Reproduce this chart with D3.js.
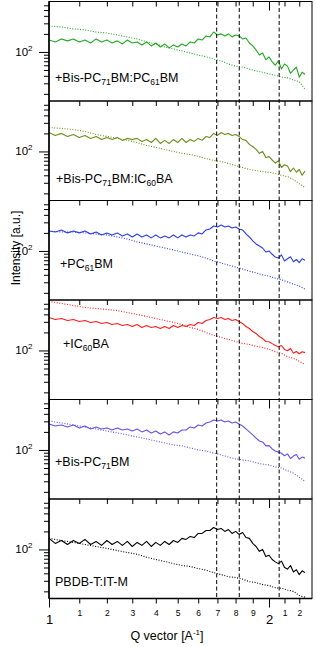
<!DOCTYPE html>
<meta charset="utf-8">
<style>
body { margin: 0; background: #fff; }
svg { display: block; font-family: Arial, "Liberation Sans", sans-serif; }
.frame { fill: none; stroke: #000; stroke-width: 1px; }
.axis-line { stroke: #000; stroke-width: 1.5px; }
.axis path.domain { display: none; }
.axis line { stroke: #000; stroke-width: 1px; }
.solid { fill: none; stroke-width: 1.1px; stroke-linejoin: round; }
.dotted { fill: none; stroke-width: 1.1px; stroke-dasharray: 1,1.6; }
.marker { stroke: #000; stroke-width: 1px; stroke-dasharray: 4,2.5; }
</style>
<body>
<script src="https://d3js.org/d3.v7.min.js"></script>
<script>

// Q values (shared grid) for the noisy traces and the dotted reference traces
var qSolid = [1.00, 1.02, 1.04, 1.06, 1.08, 1.10, 1.12, 1.14, 1.16, 1.18,
  1.20, 1.22, 1.24, 1.26, 1.28, 1.30, 1.32, 1.34, 1.36, 1.38,
  1.40, 1.42, 1.44, 1.46, 1.48, 1.50, 1.52, 1.54, 1.56, 1.58,
  1.60, 1.62, 1.64, 1.66, 1.68, 1.70, 1.72, 1.74, 1.76, 1.78,
  1.80, 1.82, 1.84, 1.86, 1.88, 1.90, 1.92, 1.94, 1.96, 1.98,
  2.00, 2.02, 2.04, 2.06, 2.08, 2.10, 2.12, 2.14, 2.16, 2.18,
  2.20, 2.22, 2.24];
var qDotted = [1.00, 1.04, 1.08, 1.12, 1.16, 1.20, 1.24, 1.28, 1.32, 1.36,
  1.40, 1.44, 1.48, 1.52, 1.56, 1.60, 1.64, 1.68, 1.72, 1.76,
  1.80, 1.84, 1.88, 1.92, 1.96, 2.00, 2.04, 2.08, 2.12, 2.16,
  2.20, 2.24];

var labels = ["+Bis-PC{71}BM:PC{61}BM", "+Bis-PC{71}BM:IC{60}BA", "+PC{61}BM",
  "+IC{60}BA", "+Bis-PC{71}BM", "PBDB-T:IT-M"];

var solid1 = [158,147,165,153,165,147,158,141,165,147, 158,141,153,136,158,141,147,131,147,126,
  141,121,136,117,131,121,136,126,147,141, 165,158,185,178,215,192,200,185,200,178,
  192,185,165,171,141,126,108,89,96,74, 83,68,60,71,52,63,58,44,50,56, 38,46,42];
var dotted1 = [271,261,242,232,215,207,192,178,165,147, 136,121,112,104,96,89,83,76,71,63,
  58,56,52,48,46,43,41,38,37,34, 32,24];

var solid2 = [207,185,200,178,192,171,185,165,178,158, 171,158,171,153,165,158,165,147,158,141,
  165,136,153,136,158,141,165,141,158,147, 165,153,178,171,200,185,207,192,200,185,
  192,178,158,153,131,121,108,93,100,79, 82,72,64,70,54,60,57,46,53,45, 50,40,47];
var dotted2 = [251,242,232,215,192,178,165,153,141,126, 117,108,100,93,89,83,76,71,68,63,
  58,54,50,48,46,45,43,40,38,34, 29,25];

var solid3 = [215,207,224,200,215,200,215,192,207,185, 200,185,200,178,192,171,192,171,185,165,
  185,165,178,165,185,165,185,171,185,178, 200,192,224,232,261,251,271,251,261,242,
  251,232,224,192,171,147,131,121,112,96, 100,88,79,76,86,68,74,80,66,72, 64,74,70];
var dotted3 = [215,207,207,200,192,185,171,158,141,131, 121,112,104,96,89,83,76,68,63,58,
  54,50,46,43,40,38,35,33,30.5,28, 26,23];

var solid4 = [355,329,341,316,329,304,316,293,304,282, 293,271,282,261,271,251,271,242,261,242,
  251,232,251,232,261,242,261,251,271,261, 293,282,316,329,355,341,355,329,341,316,
  329,304,282,251,232,207,192,171,158,141, 140,130,121,115,121,104,99,108,90,96, 88,95,92];
var dotted4 = [656,607,562,521,501,482,464,430,398,369, 341,316,293,271,242,224,200,178,165,153,
  141,131,126,117,112,104,96,89,79,74, 66,58];

var solid5 = [271,251,261,242,261,232,251,224,242,224, 232,215,232,215,224,207,224,200,215,192,
  207,185,200,178,200,192,215,215,242,232, 261,251,282,293,316,304,316,293,304,282,
  293,271,251,224,200,178,158,141,136,117, 118,104,96,92,88,80,86,72,79,84, 70,76,73];
var dotted5 = [304,282,261,242,224,207,192,178,165,153, 141,131,121,117,108,100,96,89,83,76,
  71,68,66,61,58,56,52,50,45,41, 35,30];

var solid6 = [153,126,141,121,141,126,147,121,136,117, 141,121,136,117,136,112,131,117,136,112,
  131,117,136,121,141,131,153,147,165,158, 185,185,207,207,232,215,224,200,215,185,
  200,178,192,158,153,126,112,93,100,76, 80,68,62,58,64,50,47,54,42,46, 38,44,41];
var dotted6 = [153,141,131,121,112,104,96,89,83,74, 68,63,58,54,52,48,45,41,38,35,
  34,32,29,28,26,25,23,22.5,21,20, 17,16];

// peak positions marked by the dashed lines
var peakQ = [1.696, 1.821, 2.065];

var xTicks = [1, 1.1, 1.2, 1.3, 1.4, 1.5, 1.6, 1.7, 1.8, 1.9, 2, 2.1, 2.2];
var yMinor = [20, 30, 40, 50, 60, 70, 80, 90, 200, 300, 400, 500, 600];

var solids = [solid1, solid2, solid3, solid4, solid5, solid6];
var dotteds = [dotted1, dotted2, dotted3, dotted4, dotted5, dotted6];

// styling / layout
var colors = ["#22a822", "#6b8e1a", "#2a3cf0", "#ff1c1c", "#6650ee", "#000000"];
var labelPos = [[55, 80.8], [56, 82.3], [60, 67.8], [63, 48.3], [55, 66.5], [55, 87]];

var width = 316, height = 647;
var left = 49, right = 312, top0 = 1.5, panelH = 99.5;
var bottom = top0 + 6 * panelH;

var svg = d3.select("body").append("svg")
    .attr("width", width)
    .attr("height", height);

var x = d3.scaleLog().domain([1, 2.29]).range([left, right]);

var isMajor = d => Math.abs(d - Math.round(d)) < 1e-6;

solids.forEach(function(solid, i) {
  var top = top0 + i * panelH;
  var y = d3.scaleLog().domain([15.2, 694]).range([top + panelH, top]);
  var g = svg.append("g");

  var line = d3.line()
      .x(d => x(d[0]))
      .y(d => y(d[1]));

  g.append("path")
      .attr("class", "dotted")
      .attr("stroke", colors[i])
      .attr("d", line(d3.zip(qDotted, dotteds[i])));

  g.append("path")
      .attr("class", "solid")
      .attr("stroke", colors[i])
      .attr("d", line(d3.zip(qSolid, solid)));

  g.append("rect")
      .attr("class", "frame")
      .attr("x", left).attr("y", top)
      .attr("width", right - left).attr("height", panelH);

  // x ticks hanging down from the top of each panel
  var topAxis = g.append("g")
      .attr("class", "axis")
      .attr("transform", `translate(0,${top})`)
      .call(d3.axisBottom(x).tickValues(xTicks).tickSize(5).tickFormat(""));
  topAxis.selectAll(".tick line").filter(isMajor).attr("y2", 9);

  // y ticks, outward
  var yAxis = g.append("g")
      .attr("class", "axis")
      .attr("transform", `translate(${left},0)`)
      .call(d3.axisLeft(y).tickValues(yMinor.concat([100])).tickSize(5).tickFormat(""));
  yAxis.selectAll(".tick line").filter(d => d == 100).attr("x2", -10);

  var t = g.append("text")
      .attr("x", 32.5)
      .attr("y", y(100) + 4)
      .attr("text-anchor", "end")
      .style("font-size", "11.5px");
  t.append("tspan").text("10");
  t.append("tspan").attr("dy", -5).style("font-size", "8px").text("2");

  // panel label with subscripts
  var lab = g.append("text")
      .attr("x", labelPos[i][0])
      .attr("y", top + labelPos[i][1])
      .style("font-size", "12.5px");
  var parts = labels[i].split(/\{(\d+)\}/);
  var shifted = false;
  parts.forEach(function(p, k) {
    if (p === "") return;
    var sub = k % 2 == 1;
    var ts = lab.append("tspan").text(p);
    if (sub) {
      ts.attr("dy", 3).style("font-size", "8.5px");
      shifted = true;
    } else if (shifted) {
      ts.attr("dy", -3);
      shifted = false;
    }
  });
});

// bottom axis of last panel, ticks outward with labels
var xAxis = svg.append("g")
    .attr("class", "axis")
    .attr("transform", `translate(0,${bottom})`)
    .call(d3.axisBottom(x).tickValues(xTicks).tickSize(5)
      .tickFormat(d => isMajor(d) ? String(Math.round(d)) : String(Math.round(d * 10) % 10)));
xAxis.selectAll(".tick line").filter(isMajor).attr("y2", 9);
xAxis.selectAll(".tick text")
    .attr("fill", "#000")
    .attr("dy", 0)
    .attr("y", d => isMajor(d) ? 25.5 : 17)
    .style("font-size", d => isMajor(d) ? "13px" : "8.5px");

// thicker left and bottom axis lines
svg.append("line").attr("class", "axis-line")
    .attr("x1", left).attr("x2", left).attr("y1", top0).attr("y2", bottom);
svg.append("line").attr("class", "axis-line")
    .attr("x1", left).attr("x2", right).attr("y1", bottom).attr("y2", bottom);

// dashed peak markers across all panels
svg.selectAll("line.marker")
    .data(peakQ)
  .enter()
    .append("line")
    .attr("class", "marker")
    .attr("x1", d => x(d)).attr("x2", d => x(d))
    .attr("y1", top0).attr("y2", bottom);

// axis titles
var xt = svg.append("text")
    .attr("x", 167).attr("y", 640)
    .attr("text-anchor", "middle")
    .style("font-size", "12.5px");
xt.append("tspan").text("Q vector [A");
xt.append("tspan").attr("dy", -5).style("font-size", "8px").text("-1");
xt.append("tspan").attr("dy", 5).text("]");

svg.append("text")
    .attr("transform", "translate(20,248) rotate(-90)")
    .attr("text-anchor", "middle")
    .style("font-size", "12px")
    .text("Intensity [a.u.]");

</script>
